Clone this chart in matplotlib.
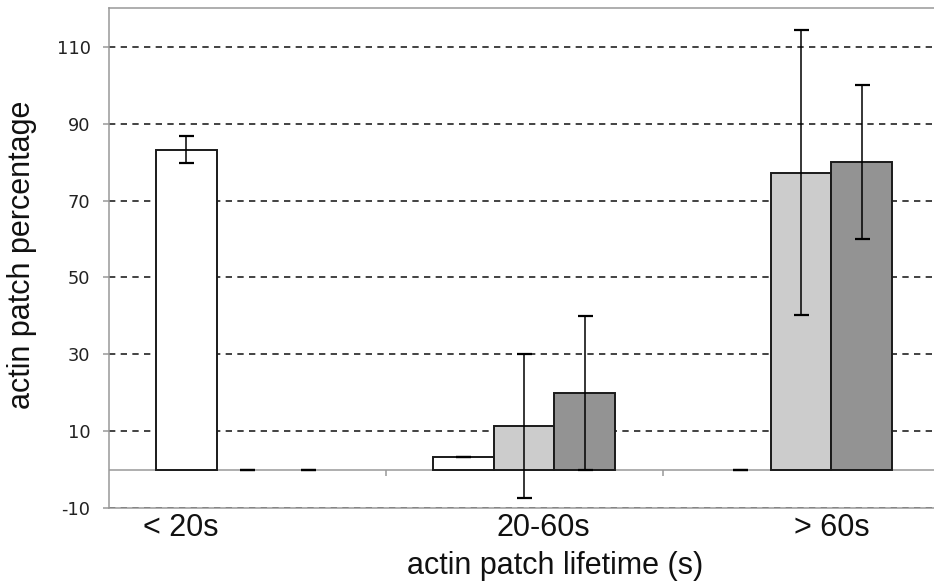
import numpy as np
import matplotlib.pyplot as plt

plt.rcParams["axes.unicode_minus"] = False

categories = ["< 20s", "20-60s", "> 60s"]

# three series per category (no legend in the original)
white_vals = [83.2, 3.5, 0]
white_err = [3.5, 0, 0]
light_vals = [0, 11.4, 77.2]
light_err = [0, 18.6, 37.0]
dark_vals = [0, 20.0, 80.0]
dark_err = [0, 20.0, 20.0]

y_ticks = [-10, 10, 30, 50, 70, 90, 110]

fig = plt.figure(figsize=(9.34, 5.86), dpi=100)
ax = fig.add_axes([0.1162, 0.1323, 0.8897, 0.854])

x = np.arange(len(categories))
w = 0.22
series = [
    (white_vals, white_err, "white"),
    (light_vals, light_err, "#cccccc"),
    (dark_vals, dark_err, "#939393"),
]
for i, (vals, err, col) in enumerate(series):
    pos = x + (i - 1) * w
    lws = [1.4 if v else 0 for v in vals]
    ax.bar(pos, vals, w, color=col, edgecolor="#1a1a1a", linewidth=lws, zorder=3)
    ax.errorbar(pos, vals, yerr=err, fmt="none", ecolor="black",
                elinewidth=1.1, capsize=5.4, capthick=1.6, zorder=4)

# category axis crossing at zero, with boundary ticks
ax.axhline(0, color="#999999", lw=1.1, zorder=2)
ax.vlines(x[:-1] + 0.5, -1.6, 0, color="#999999", lw=1.1, zorder=2)

ax.set_xlim(-0.5, len(categories) - 0.5)
ax.set_ylim(-10, 120)

ax.set_yticks(y_ticks)
ax.yaxis.grid(True, color="#222222", lw=1.2, linestyle=(0, (3.8, 3.2)))
ax.set_axisbelow(True)
ax.tick_params(axis="y", length=4.3, width=1.1, color="#999999",
               labelsize=12.8, pad=8.6, labelcolor="#222222")

# category labels are a bit off-centre in the original
label_shift = [-0.24, 0.07, 0.11]
ax.set_xticks(x + np.array(label_shift))
ax.set_xticklabels(categories, fontfamily="Liberation Sans", fontsize=22)
ax.tick_params(axis="x", length=0, pad=3.2, labelcolor="#111111")

for s in ax.spines.values():
    s.set_color("#999999")
    s.set_linewidth(1.1)

ax.set_xlabel("actin patch lifetime (s)", fontfamily="Liberation Sans",
              fontsize=22, color="#111111")
ax.xaxis.set_label_coords(0.537, -0.084)
ax.set_ylabel("actin patch percentage", fontfamily="Liberation Sans",
              fontsize=22, color="#111111")
ax.yaxis.set_label_coords(-0.086, 0.506)

fig.savefig("out.png", dpi=100)
